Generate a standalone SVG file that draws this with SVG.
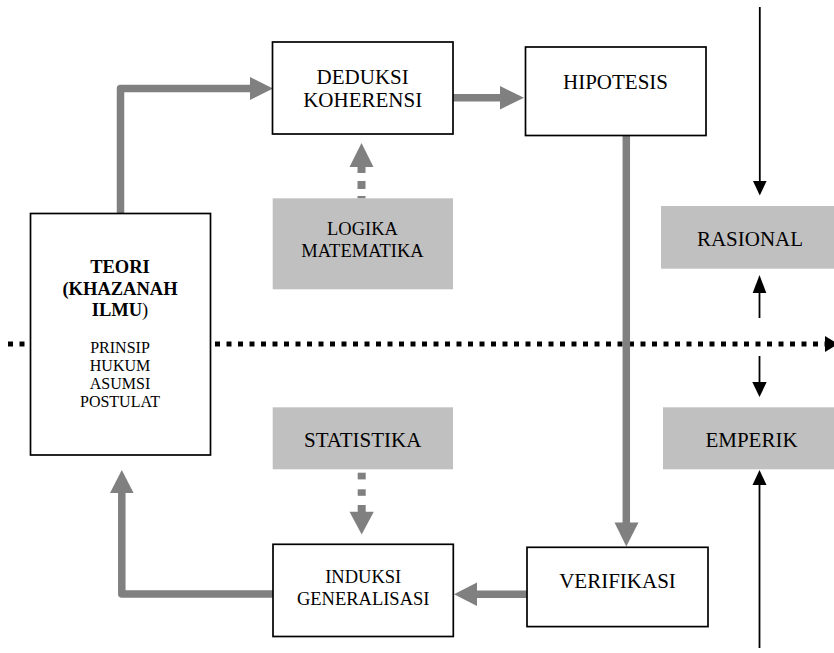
<svg xmlns="http://www.w3.org/2000/svg" width="834" height="653" viewBox="0 0 834 653">
<style>
.box{fill:#fff;stroke:#000;stroke-width:1.7}
.gbox{fill:#c0c0c0;stroke:none}
text{font-family:"Liberation Serif","Times New Roman",serif;fill:#000;text-anchor:middle}
.t21{font-size:21px}
.t18{font-size:18.5px}
.tb{font-size:18.5px;font-weight:bold}
.t16{font-size:16px}
.gl{fill:none;stroke:#808080;stroke-width:7.5;stroke-linejoin:round}
.gh{fill:#808080}
.bl{fill:none;stroke:#000;stroke-width:1.8}
.bh{fill:#000}
</style>
<g id="connectors">
  <line x1="8" y1="344" x2="826" y2="344" stroke="#000" stroke-width="5" stroke-dasharray="5 6.5"/>
  <polygon points="825,336 825,352 838,344" fill="#000"/>
  <path class="gl" d="M120.5,213 V88.5 H251"/>
  <polygon class="gh" points="250,77 250,100 273,88.5"/>
  <line class="gl" x1="453" y1="97.7" x2="501" y2="97.7"/>
  <polygon class="gh" points="500,86 500,109.5 524,97.7"/>
  <polygon class="gh" points="361.5,143 349.5,167 373.5,167"/>
  <rect class="gh" x="357.5" y="166" width="8" height="7"/>
  <rect class="gh" x="357.5" y="181" width="8" height="8"/>
  <rect class="gh" x="357.5" y="196" width="8" height="2.5"/>
  <line class="gl" x1="626.3" y1="135.5" x2="626.3" y2="524"/>
  <polygon class="gh" points="614.5,522.5 638.5,522.5 626.3,546.5"/>
  <rect class="gh" x="357.7" y="472.7" width="8" height="6.7"/>
  <rect class="gh" x="357.7" y="489.3" width="8" height="6.5"/>
  <rect class="gh" x="357.7" y="505" width="8" height="7.5"/>
  <polygon class="gh" points="349.5,511.7 373.8,511.7 361.7,534.5"/>
  <line class="gl" x1="527" y1="594.2" x2="475.5" y2="594.2"/>
  <polygon class="gh" points="477,582.5 477,606 454,594.2"/>
  <path class="gl" d="M273,594 H121.8 V491.5"/>
  <polygon class="gh" points="110,493 133.6,493 121.8,470"/>
  <line class="bl" x1="759.8" y1="7" x2="759.8" y2="182"/>
  <polygon class="bh" points="753,181 766.6,181 759.8,195.5"/>
  <line class="bl" x1="759.5" y1="318" x2="759.5" y2="292"/>
  <polygon class="bh" points="752.7,293 766.3,293 759.5,275"/>
  <line class="bl" x1="759.5" y1="356" x2="759.5" y2="383"/>
  <polygon class="bh" points="752.3,382 766.7,382 759.5,397"/>
  <line class="bl" x1="759.5" y1="648" x2="759.5" y2="484"/>
  <polygon class="bh" points="752.5,485 766.5,485 759.5,470"/>
</g>
<g id="teori">
  <rect class="box" x="30.5" y="213.5" width="180" height="241.5"/>
  <text class="tb" x="120" y="272.7">TEORI</text>
  <text class="tb" x="120" y="294.5">(KHAZANAH</text>
  <text class="tb" x="120" y="315.5">ILMU<tspan font-weight="normal">)</tspan></text>
  <text class="t16" x="120" y="352.7">PRINSIP</text>
  <text class="t16" x="120" y="371">HUKUM</text>
  <text class="t16" x="120" y="389.3">ASUMSI</text>
  <text class="t16" x="120" y="407.3">POSTULAT</text>
</g>
<g id="deduksi">
  <rect class="box" x="272.5" y="42" width="180.5" height="92"/>
  <text class="t21" x="362.7" y="84">DEDUKSI</text>
  <text class="t21" x="362.7" y="107">KOHERENSI</text>
</g>
<g id="hipotesis">
  <rect class="box" x="525.5" y="47" width="180.5" height="88.5"/>
  <text class="t21" x="615.5" y="89">HIPOTESIS</text>
</g>
<g id="logika">
  <rect class="gbox" x="272.7" y="198.3" width="180.3" height="91"/>
  <text class="t18" x="362.5" y="235">LOGIKA</text>
  <text class="t18" x="362.5" y="256.7">MATEMATIKA</text>
</g>
<g id="rasional">
  <rect class="gbox" x="661" y="206" width="173" height="62.7"/>
  <text class="t21" x="750" y="246">RASIONAL</text>
</g>
<g id="statistika">
  <rect class="gbox" x="272.7" y="407.3" width="180.3" height="62"/>
  <text class="t21" x="362.7" y="446.7">STATISTIKA</text>
</g>
<g id="emperik">
  <rect class="gbox" x="663" y="407.3" width="171" height="62"/>
  <text class="t21" x="751.5" y="446.7">EMPERIK</text>
</g>
<g id="induksi">
  <rect class="box" x="273" y="544.3" width="180.3" height="92.2"/>
  <text class="t18" x="363.2" y="583.3">INDUKSI</text>
  <text class="t18" x="363.2" y="605">GENERALISASI</text>
</g>
<g id="verifikasi">
  <rect class="box" x="527" y="547.3" width="181" height="79.3"/>
  <text class="t21" x="617.5" y="588.3">VERIFIKASI</text>
</g>
</svg>
